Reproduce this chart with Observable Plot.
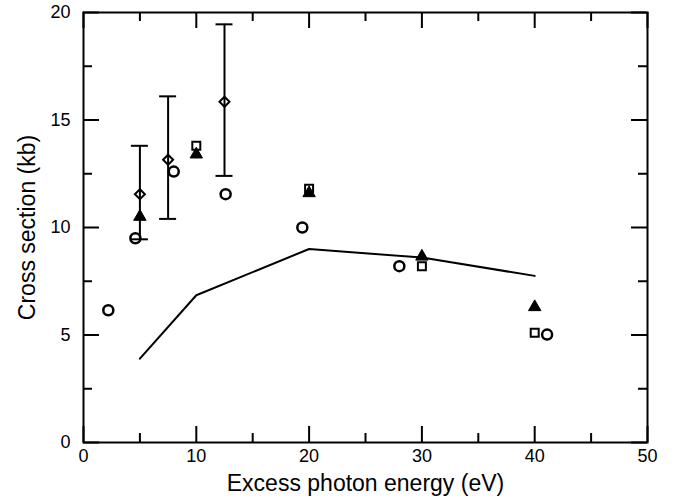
<!DOCTYPE html>
<html>
<head>
<meta charset="utf-8">
<script src="https://cdn.jsdelivr.net/npm/d3@7"></script>
<script src="https://cdn.jsdelivr.net/npm/@observablehq/plot@0.6"></script>
<style>
  html, body { margin: 0; padding: 0; background: #fff; }
  #chart { width: 682px; height: 503px; }
</style>
</head>
<body>
<div id="chart"></div>
<script>
// Circles (open)
const circleX = [2.2, 4.6, 8.0, 12.6, 19.4, 28.0, 41.1];
const circleY = [6.15, 9.5, 12.6, 11.55, 10.0, 8.2, 5.02];
// Filled triangles
const triX = [5, 10, 20, 30, 40];
const triY = [10.5, 13.4, 11.6, 8.65, 6.3];
// Open squares
const sqX = [10, 20, 30, 40];
const sqY = [13.8, 11.8, 8.2, 5.1];
// Diamonds with error bars
const diaX = [5, 7.5, 12.5];
const diaY = [11.55, 13.15, 15.85];
const diaLo = [9.45, 10.4, 12.4];
const diaHi = [13.8, 16.1, 19.45];
// Theory curve
const lineX = [5, 10, 20, 30, 40];
const lineY = [3.9, 6.85, 9.0, 8.6, 7.75];
// Ticks
const xMajor = [0, 10, 20, 30, 40, 50];
const xMinor = [5, 15, 25, 35, 45];
const yMajor = [0, 5, 10, 15, 20];
const yMinor = [2.5, 7.5, 12.5, 17.5];
const xTitle = "Excess photon energy (eV)";
const yTitle = "Cross section (kb)";

const W = 682, H = 503;
const mL = 83, mR = 35, mT = 12, mB = 61;
const pw = W - mL - mR, ph = H - mT - mB;

const circles = circleX.map((x, i) => ({x, y: circleY[i]}));
const tris = triX.map((x, i) => ({x, y: triY[i]}));
const sqs = sqX.map((x, i) => ({x, y: sqY[i]}));
const dias = diaX.map((x, i) => ({x, y: diaY[i], lo: diaLo[i], hi: diaHi[i]}));
const curve = lineX.map((x, i) => ({x, y: lineY[i]}));

const majL = 16, minL = 9;
const tickMarks = [];
for (const [arr, len] of [[xMajor, majL], [xMinor, minL]]) {
  tickMarks.push(Plot.tickX(arr, {x: d => d, insetTop: ph - len, stroke: "black", strokeWidth: 2}));
  tickMarks.push(Plot.tickX(arr, {x: d => d, insetBottom: ph - len, stroke: "black", strokeWidth: 2}));
}
for (const [arr, len] of [[yMajor, majL], [yMinor, minL]]) {
  tickMarks.push(Plot.tickY(arr, {y: d => d, insetRight: pw - len, stroke: "black", strokeWidth: 2}));
  tickMarks.push(Plot.tickY(arr, {y: d => d, insetLeft: pw - len, stroke: "black", strokeWidth: 2}));
}

const capHalf = 8.5;

const chart = Plot.plot({
  width: W, height: H,
  marginLeft: mL, marginRight: mR, marginTop: mT, marginBottom: mB,
  style: {fontFamily: "'Liberation Sans', Arial, Helvetica, sans-serif", background: "white", color: "black"},
  x: {type: "linear", domain: [0, 50]},
  y: {type: "linear", domain: [0, 20]},
  marks: [
    ...tickMarks,
    Plot.axisX(xMajor, {tickSize: 0, tickPadding: 7, fontSize: 18, label: null}),
    Plot.axisY(yMajor, {tickSize: 0, tickPadding: 13, fontSize: 18, label: null}),
    Plot.text([xTitle], {frameAnchor: "bottom", textAnchor: "middle", dy: 48, fontSize: 23, text: d => d}),
    Plot.text([yTitle], {frameAnchor: "left", textAnchor: "middle", dx: -56, rotate: -90, fontSize: 23, text: d => d}),
    Plot.line(curve, {x: "x", y: "y", stroke: "black", strokeWidth: 2}),
    Plot.ruleX(dias, {x: "x", y1: "lo", y2: "hi", stroke: "black", strokeWidth: 2}),
    Plot.ruleY(dias, {y: "lo", x1: "x", x2: "x", insetLeft: -capHalf, insetRight: -capHalf, stroke: "black", strokeWidth: 2}),
    Plot.ruleY(dias, {y: "hi", x1: "x", x2: "x", insetLeft: -capHalf, insetRight: -capHalf, stroke: "black", strokeWidth: 2}),
    Plot.dot(circles, {x: "x", y: "y", symbol: "circle", r: 5, stroke: "black", strokeWidth: 2.5, fill: "none"}),
    Plot.dot(sqs, {x: "x", y: "y", symbol: "square", r: 4.5, stroke: "black", strokeWidth: 2, fill: "none"}),
    Plot.dot(tris, {x: "x", y: "y", symbol: "triangle", r: 4.6, fill: "black", stroke: "black", strokeWidth: 1}),
    Plot.dot(dias, {x: "x", y: "y", symbol: "diamond2", r: 4.5, stroke: "black", strokeWidth: 2, fill: "none"}),
    Plot.frame({stroke: "black", strokeWidth: 2})
  ]
});
document.getElementById("chart").appendChild(chart);
</script>
</body>
</html>
